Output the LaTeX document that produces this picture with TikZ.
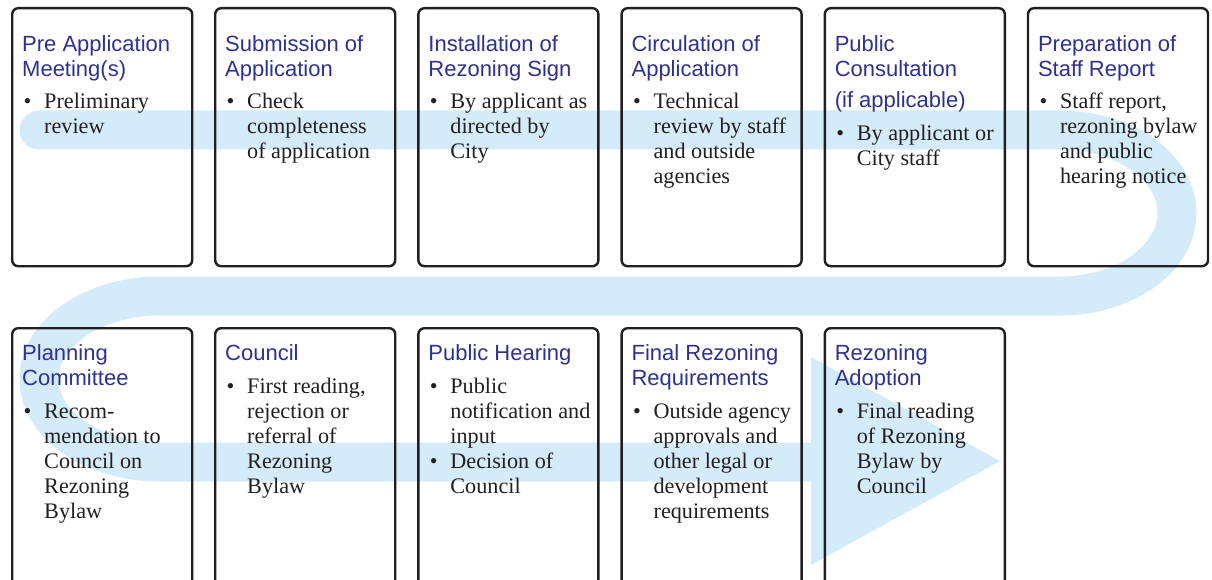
\documentclass[tikz,border=0pt]{standalone}
\usepackage{fontspec}
\setmainfont{Liberation Serif}
\newfontfamily\titlefont{Liberation Sans}
\definecolor{bandblue}{HTML}{D4ECF9}
\definecolor{ttlblue}{HTML}{2E3192}
\definecolor{ink}{HTML}{231F20}
\newcommand{\lines}[1]{\begin{tabular}[t]{@{}l@{}}#1\end{tabular}}
\newcommand{\bu}{\makebox[22pt][l]{\hspace{1.5pt}\textbullet}}
\newcommand{\blist}[1]{\begin{tabular}[t]{@{}l@{}l@{}}#1\end{tabular}}
\tikzset{
  card/.style={draw=ink, line width=2.4pt, rounded corners=6pt, minimum width=180pt, inner sep=0pt, anchor=north west},
  toprow/.style={card, minimum height=258pt},
  botrow/.style={card, minimum height=300pt},
  ttl/.style={text=ttlblue, font=\titlefont\fontsize{22}{25}\selectfont, inner sep=0pt, anchor=base west},
  bodytxt/.style={text=ink, font=\fontsize{22.2}{25}\selectfont, inner sep=0pt, anchor=base west},
  band/.style={draw=bandblue, line width=39pt, line cap=round}
}
\begin{document}
\begin{tikzpicture}[x=1pt, y=-1pt]
\useasboundingbox (0,0) rectangle (1212,580);
\clip (0,0) rectangle (1212,580);
\fill[white] (0,0) rectangle (1212,580);
% flowing band
\draw[band] (39,130) -- (1060,130)
  arc[start angle=-90, end angle=90, x radius=117, y radius=83]
  -- (160,296)
  arc[start angle=-90, end angle=-270, x radius=121, y radius=83]
  -- (812,462);
\fill[bandblue] (811,357) -- (1000,461) -- (811,565) -- cycle;

% top row
\node[toprow] (b1) at (11,7) {};
\node[toprow] (b2) at (214,7) {};
\node[toprow] (b3) at (417.2,7) {};
\node[toprow] (b4) at (620.4,7) {};
\node[toprow] (b5) at (823.6,7) {};
\node[toprow] (b6) at (1026.8,7) {};
% bottom row
\node[botrow] (c1) at (11,327) {};
\node[botrow] (c2) at (214,327) {};
\node[botrow] (c3) at (417.2,327) {};
\node[botrow] (c4) at (620.4,327) {};
\node[botrow] (c5) at (823.6,327) {};

% top row texts
\node[ttl] (t1) at ([shift={(11,44.5)}]b1.north west) {\lines{Pre Application\\Meeting(s)}};
\node[bodytxt] (d1) at ([shift={(11,101.5)}]b1.north west) {\blist{\bu & Preliminary\\ & review}};

\node[ttl] (t2) at ([shift={(11,44.5)}]b2.north west) {\lines{Submission of\\Application}};
\node[bodytxt] (d2) at ([shift={(11,101.5)}]b2.north west) {\blist{\bu & Check\\ & completeness\\ & of application}};

\node[ttl] (t3) at ([shift={(11,44.5)}]b3.north west) {\lines{Installation of\\Rezoning Sign}};
\node[bodytxt] (d3) at ([shift={(11,101.5)}]b3.north west) {\blist{\bu & By applicant as\\ & directed by\\ & City}};

\node[ttl] (t4) at ([shift={(11,44.5)}]b4.north west) {\lines{Circulation of\\Application}};
\node[bodytxt] (d4) at ([shift={(11,101.5)}]b4.north west) {\blist{\bu & Technical\\ & review by staff\\ & and outside\\ & agencies}};

\node[ttl] (t5) at ([shift={(11,44.5)}]b5.north west) {\lines{Public\\Consultation\\[6pt](if applicable)}};
\node[bodytxt] (d5) at ([shift={(11,134)}]b5.north west) {\blist{\bu & By applicant or\\ & City staff}};

\node[ttl] (t6) at ([shift={(11,44.5)}]b6.north west) {\lines{Preparation of\\Staff Report}};
\node[bodytxt] (d6) at ([shift={(11,101.5)}]b6.north west) {\blist{\bu & Staff report,\\ & rezoning bylaw\\ & and public\\ & hearing notice}};

% bottom row texts
\node[ttl] (u1) at ([shift={(11,33.5)}]c1.north west) {\lines{Planning\\Committee}};
\node[bodytxt] (e1) at ([shift={(11,91)}]c1.north west) {\blist{\bu & Recom-\\ & mendation to\\ & Council on\\ & Rezoning\\ & Bylaw}};

\node[ttl] (u2) at ([shift={(11,33.5)}]c2.north west) {\lines{Council}};
\node[bodytxt] (e2) at ([shift={(11,66)}]c2.north west) {\blist{\bu & First reading,\\ & rejection or\\ & referral of\\ & Rezoning\\ & Bylaw}};

\node[ttl] (u3) at ([shift={(11,33.5)}]c3.north west) {\lines{Public Hearing}};
\node[bodytxt] (e3) at ([shift={(11,66)}]c3.north west) {\blist{\bu & Public\\ & notification and\\ & input\\ \bu & Decision of\\ & Council}};

\node[ttl] (u4) at ([shift={(11,33.5)}]c4.north west) {\lines{Final Rezoning\\Requirements}};
\node[bodytxt] (e4) at ([shift={(11,91)}]c4.north west) {\blist{\bu & Outside agency\\ & approvals and\\ & other legal or\\ & development\\ & requirements}};

\node[ttl] (u5) at ([shift={(11,33.5)}]c5.north west) {\lines{Rezoning\\Adoption}};
\node[bodytxt] (e5) at ([shift={(11,91)}]c5.north west) {\blist{\bu & Final reading\\ & of Rezoning\\ & Bylaw by\\ & Council}};
\end{tikzpicture}
\end{document}
